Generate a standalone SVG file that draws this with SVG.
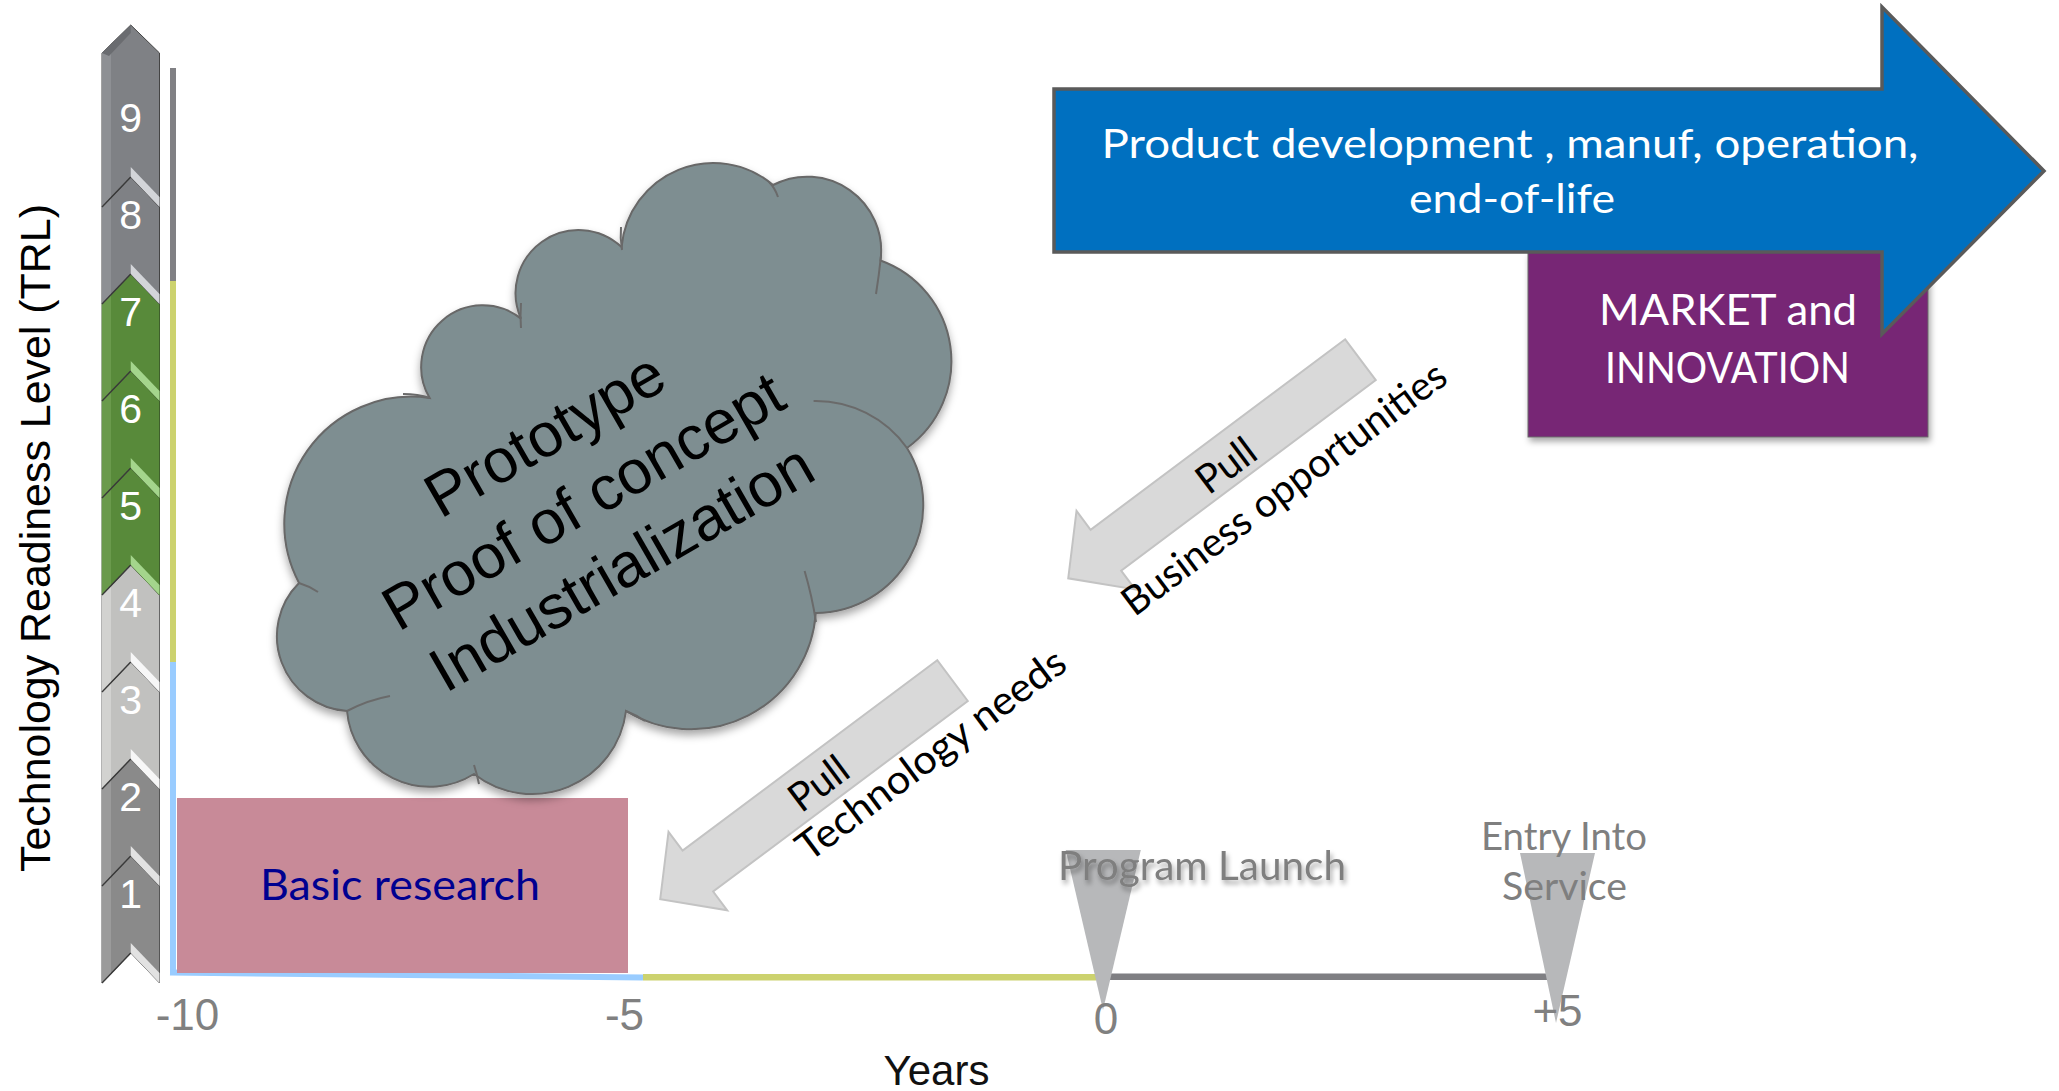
<svg xmlns="http://www.w3.org/2000/svg" width="2059" height="1091" viewBox="0 0 2059 1091">
<defs>
<style>
.cal{font-family:Lato,"Open Sans","Liberation Sans",sans-serif}
.ari{font-family:"Liberation Sans",Arial,sans-serif}
.dig{font-family:"Liberation Sans",Arial,sans-serif;font-size:41px;fill:#fff;text-anchor:middle}
.axn{font-family:"Liberation Sans",Arial,sans-serif;font-size:44px;fill:#808080;text-anchor:middle}
.chevE{fill:none;stroke:#3a3a3a;stroke-width:1.4}
.pull{fill:#d9d9d9;stroke:#c3c3c3;stroke-width:2}
.pt{font-family:Lato,"Open Sans","Liberation Sans",sans-serif;font-size:40px;fill:#000}
.inner{fill:none;stroke:#6a6a6a;stroke-width:2}
</style>
<filter id="sh" x="-10%" y="-10%" width="130%" height="130%"><feDropShadow dx="0" dy="5" stdDeviation="4" flood-color="#000" flood-opacity="0.35"/></filter>
<filter id="tsh" x="-10%" y="-30%" width="130%" height="180%"><feDropShadow dx="2" dy="4" stdDeviation="2.5" flood-color="#000" flood-opacity="0.35"/></filter>
<filter id="bsh" x="-10%" y="-10%" width="130%" height="130%"><feDropShadow dx="2" dy="4" stdDeviation="3" flood-color="#000" flood-opacity="0.35"/></filter>
</defs>
<rect width="2059" height="1091" fill="#fff"/>

<g id="axes">
<line x1="173" y1="68" x2="173" y2="281" stroke="#808084" stroke-width="6"/>
<line x1="173" y1="281" x2="173" y2="662" stroke="#ccd26e" stroke-width="6"/>
<line x1="173" y1="662" x2="173" y2="975" stroke="#99ccff" stroke-width="6"/>
<line x1="170" y1="972.5" x2="643" y2="977.5" stroke="#99ccff" stroke-width="6"/>
<line x1="643" y1="977.3" x2="1096" y2="977.3" stroke="#ccd26e" stroke-width="6.5"/>
<line x1="1096" y1="976.7" x2="1549" y2="976.7" stroke="#7f7f83" stroke-width="6.5"/>
</g>

<g id="trl-scale">
<g id="chev1"><polygon points="102,886 130.75,856 159.5,886 159.5,983 130.75,953 102,983" fill="#8a8a8a" stroke="#555" stroke-width="1"/><polygon points="102,886 111,876.6 111,973.6 102,983" fill="#9b9b9b"/><polygon points="130.75,943 159.5,973 159.5,983 130.75,953" fill="#e2e2e2"/><polyline class="chevE" points="102,983 130.75,953"/><text class="dig" x="130.75" y="908">1</text></g>
<g id="chev2"><polygon points="102,789 130.75,759 159.5,789 159.5,886 130.75,856 102,886" fill="#8a8a8a" stroke="#555" stroke-width="1"/><polygon points="102,789 111,779.6 111,876.6 102,886" fill="#9b9b9b"/><polygon points="130.75,846 159.5,876 159.5,886 130.75,856" fill="#e2e2e2"/><polyline class="chevE" points="102,886 130.75,856"/><text class="dig" x="130.75" y="811">2</text></g>
<g id="chev3"><polygon points="102,692 130.75,662 159.5,692 159.5,789 130.75,759 102,789" fill="#c1c1bf" stroke="#666" stroke-width="1"/><polygon points="102,692 111,682.6 111,779.6 102,789" fill="#d2d2d0"/><polygon points="130.75,749 159.5,779 159.5,789 130.75,759" fill="#f7f7f7"/><polyline class="chevE" points="102,789 130.75,759"/><text class="dig" x="130.75" y="714">3</text></g>
<g id="chev4"><polygon points="102,595 130.75,565 159.5,595 159.5,692 130.75,662 102,692" fill="#c1c1bf" stroke="#666" stroke-width="1"/><polygon points="102,595 111,585.6 111,682.6 102,692" fill="#d2d2d0"/><polygon points="130.75,652 159.5,682 159.5,692 130.75,662" fill="#f7f7f7"/><polyline class="chevE" points="102,692 130.75,662"/><text class="dig" x="130.75" y="617">4</text></g>
<g id="chev5"><polygon points="102,498 130.75,468 159.5,498 159.5,595 130.75,565 102,595" fill="#588a3a" stroke="#3f5f2c" stroke-width="1"/><polygon points="102,498 111,488.6 111,585.6 102,595" fill="#6a9a4c"/><polygon points="130.75,555 159.5,585 159.5,595 130.75,565" fill="#a4d58c"/><polyline class="chevE" points="102,595 130.75,565"/><text class="dig" x="130.75" y="520">5</text></g>
<g id="chev6"><polygon points="102,401 130.75,371 159.5,401 159.5,498 130.75,468 102,498" fill="#588a3a" stroke="#3f5f2c" stroke-width="1"/><polygon points="102,401 111,391.6 111,488.6 102,498" fill="#6a9a4c"/><polygon points="130.75,458 159.5,488 159.5,498 130.75,468" fill="#a4d58c"/><polyline class="chevE" points="102,498 130.75,468"/><text class="dig" x="130.75" y="423">6</text></g>
<g id="chev7"><polygon points="102,304 130.75,274 159.5,304 159.5,401 130.75,371 102,401" fill="#588a3a" stroke="#3f5f2c" stroke-width="1"/><polygon points="102,304 111,294.6 111,391.6 102,401" fill="#6a9a4c"/><polygon points="130.75,361 159.5,391 159.5,401 130.75,371" fill="#a4d58c"/><polyline class="chevE" points="102,401 130.75,371"/><text class="dig" x="130.75" y="326">7</text></g>
<g id="chev8"><polygon points="102,207 130.75,177 159.5,207 159.5,304 130.75,274 102,304" fill="#7f8185" stroke="#444" stroke-width="1"/><polygon points="102,207 111,197.6 111,294.6 102,304" fill="#8e9094"/><polygon points="130.75,264 159.5,294 159.5,304 130.75,274" fill="#d3d5d9"/><polyline class="chevE" points="102,304 130.75,274"/><text class="dig" x="130.75" y="229">8</text></g>
<g id="chev9"><polygon points="102,53 130.75,25 159.5,53 159.5,207 130.75,177 102,207" fill="#7f8185" stroke="#444" stroke-width="1"/><polygon points="102,53 111,44.2 111,197.6 102,207" fill="#8e9094"/><polygon points="102,53 130.75,25 130.75,33 109,56" fill="#6a6c70"/><polygon points="130.75,167 159.5,197 159.5,207 130.75,177" fill="#d3d5d9"/><polyline class="chevE" points="102,207 130.75,177"/><text class="dig" x="130.75" y="132">9</text></g>
</g>

<g id="trl-label">
<text class="ari" x="538" y="50" transform="rotate(-90 538 50) translate(-488 -488)" font-size="43" fill="#000" text-anchor="middle" textLength="668" lengthAdjust="spacingAndGlyphs">Technology Readiness Level (TRL)</text>
</g>

<g id="basic-research">
<rect x="177" y="798" width="451" height="175" fill="#c88a98"/>
<text class="cal" x="400" y="900" font-size="42" fill="#000090" text-anchor="middle" textLength="280" lengthAdjust="spacingAndGlyphs">Basic research</text>
</g>

<g id="cloud">
<path filter="url(#sh)" d="M621.6,247 A92,92 0 0 1 773,185 A74,74 0 0 1 880.5,260.5 A107,107 0 0 1 907,448 A108,108 0 0 1 815.8,613 A125,125 0 0 1 626,711 A94.5,94.5 0 0 1 474,774 A83,83 0 0 1 347,711 A75,75 0 0 1 299,583 A127,127 0 0 1 429.6,398 A61.6,61.6 0 0 1 521,318.6 A63,63 0 0 1 621.6,247 Z" fill="#7e8e91" stroke="#676767" stroke-width="2"/>
<path class="inner" d="M813.6,401 A112,112 0 0 1 907,448"/>
<path class="inner" d="M403,394 Q418,394 430,398"/>
<path class="inner" d="M521,303 Q520,316 521,328"/>
<path class="inner" d="M621,227 Q620,238 622,250"/>
<path class="inner" d="M769,182 Q775,188 778,197"/>
<path class="inner" d="M881,256 Q879,275 876,294"/>
<path class="inner" d="M804.6,571 Q812,596 816,622"/>
<path class="inner" d="M626,711 Q636,715 645,721"/>
<path class="inner" d="M474,765 Q477,774 479,784"/>
<path class="inner" d="M347,711 Q368,700 390,696"/>
<path class="inner" d="M299,583 Q309,586 318,592"/>
<text class="ari" transform="rotate(-30 590 505)" font-size="62" fill="#000" text-anchor="middle"><tspan x="586" y="442.6">Prototype</tspan><tspan x="586" y="519.3">Proof of concept</tspan><tspan x="586" y="596">Industrialization</tspan></text>
</g>

<g id="pull-business">
<g transform="translate(1360.5 359.7) rotate(-36.8)">
<polygon class="pull" points="0,-25.5 -318,-25.5 -318,-49 -365,0 -318,49 -318,25.5 0,25.5"/>
<text class="pt" x="-171" y="18" text-anchor="middle" textLength="64" lengthAdjust="spacingAndGlyphs">Pull</text>
<text class="pt" x="-138.5" y="71" text-anchor="middle" textLength="394" lengthAdjust="spacingAndGlyphs">Business opportunities</text>
</g>
</g>

<g id="pull-technology">
<g transform="translate(952.5 680.6) rotate(-36.8)">
<polygon class="pull" points="0,-25.5 -318,-25.5 -318,-49 -365,0 -318,49 -318,25.5 0,25.5"/>
<text class="pt" x="-169" y="16" text-anchor="middle" textLength="64" lengthAdjust="spacingAndGlyphs">Pull</text>
<text class="pt" x="-61.5" y="60" text-anchor="middle" textLength="325" lengthAdjust="spacingAndGlyphs">Technology needs</text>
</g>
</g>

<g id="market">
<rect x="1528" y="252" width="400" height="185" fill="#772775" stroke="#6a6a6a" stroke-width="1" filter="url(#bsh)"/>
</g>

<g id="product-arrow">
<path d="M1054,89 L1882,89 L1882,7 L2044,171 L1882,334 L1882,252 L1054,252 Z" fill="#0070c0" stroke="#5a5a5a" stroke-width="3.5" stroke-linejoin="miter"/>
<text class="cal" x="1510" y="158" font-size="41" fill="#fff" text-anchor="middle" textLength="817" lengthAdjust="spacingAndGlyphs">Product development , manuf, operation,</text>
<text class="cal" x="1512" y="213" font-size="41" fill="#fff" text-anchor="middle" textLength="206" lengthAdjust="spacingAndGlyphs">end-of-life</text>
</g>

<g id="market-text">
<text class="cal" x="1728" y="325" font-size="43" fill="#fff" text-anchor="middle" textLength="258" lengthAdjust="spacingAndGlyphs">MARKET and</text>
<text class="cal" x="1727.5" y="383" font-size="43" fill="#fff" text-anchor="middle" textLength="245" lengthAdjust="spacingAndGlyphs">INNOVATION</text>
</g>

<g id="program-launch">
<polygon points="1065.7,850 1140.8,850 1103,1010" fill="#b7b8ba"/>
<text class="cal" x="1202" y="880" font-size="40" fill="#7f7f7f" text-anchor="middle" textLength="288" lengthAdjust="spacingAndGlyphs" filter="url(#tsh)">Program Launch</text>
</g>

<g id="entry-into-service">
<polygon points="1520,853 1595,853 1556,1023" fill="#b7b8ba"/>
<text class="cal" x="1564" y="850" font-size="38" fill="#7f7f7f" text-anchor="middle" textLength="166" lengthAdjust="spacingAndGlyphs">Entry Into</text>
<text class="cal" x="1564.5" y="900" font-size="38" fill="#7f7f7f" text-anchor="middle" textLength="125" lengthAdjust="spacingAndGlyphs">Service</text>
</g>

<g id="year-labels">
<text class="axn" x="187.5" y="1030">-10</text>
<text class="axn" x="624.5" y="1030">-5</text>
<text class="axn" x="1106" y="1034">0</text>
<text class="axn" x="1557.5" y="1026">+5</text>
<text class="ari" x="936.5" y="1085" font-size="42" fill="#111" text-anchor="middle">Years</text>
</g>
</svg>
